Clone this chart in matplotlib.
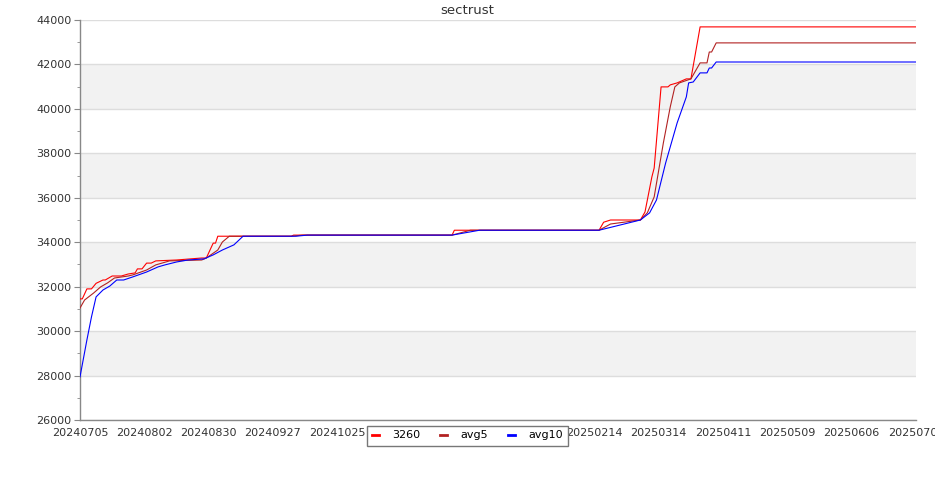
import pandas as pd
import matplotlib
matplotlib.use('Agg')
import matplotlib.pyplot as plt
from matplotlib.ticker import MultipleLocator

# polyline vertices (date, value)
dates_3260 = ['20240705', '20240706', '20240708', '20240710', '20240712', '20240715', '20240716',
              '20240719', '20240723', '20240726', '20240729', '20240730', '20240801', '20240803',
              '20240805', '20240807', '20240816', '20240827', '20240829', '20240901', '20240902',
              '20240903', '20241005', '20241006', '20241214', '20241215', '20250216', '20250218',
              '20250221', '20250306', '20250308', '20250311', '20250312', '20250315', '20250318',
              '20250319', '20250322', '20250326', '20250328', '20250401', '20250704']
vals_3260 = [31450, 31450, 31900, 31900, 32150, 32300, 32300,
             32480, 32480, 32570, 32620, 32800, 32800, 33060,
             33060, 33160, 33200, 33290, 33290, 33960, 33960,
             34270, 34270, 34320, 34320, 34540, 34540, 34900,
             35000, 35000, 35360, 36940, 37340, 40990, 40990,
             41080, 41170, 41350, 41350, 43690, 43690]

dates_avg5 = ['20240705', '20240707', '20240711', '20240714', '20240717', '20240720', '20240726',
              '20240728', '20240803', '20240807', '20240813', '20240827', '20240829', '20240903',
              '20240905', '20240908', '20241005', '20241010', '20241214', '20241222', '20250216',
              '20250221', '20250306', '20250309', '20250312', '20250316', '20250319', '20250321',
              '20250323', '20250328', '20250401', '20250404', '20250405', '20250406', '20250408',
              '20250704']
vals_avg5 = [31040, 31400, 31720, 31990, 32170, 32390, 32480,
             32530, 32750, 32980, 33160, 33200, 33290, 33650,
             34010, 34270, 34270, 34320, 34320, 34540, 34540,
             34820, 35000, 35320, 36040, 38470, 40090, 40990,
             41170, 41350, 42070, 42070, 42560, 42560, 42970,
             42970]

dates_avg10 = ['20240705', '20240708', '20240710', '20240712', '20240715', '20240718', '20240721',
               '20240724', '20240728', '20240803', '20240808', '20240811', '20240816', '20240821',
               '20240828', '20240901', '20240905', '20240910', '20240914', '20241007', '20241012',
               '20241214', '20241226', '20250216', '20250306', '20250310', '20250313', '20250317',
               '20250322', '20250326', '20250327', '20250329', '20250401', '20250404', '20250405',
               '20250406', '20250408', '20250704']
vals_avg10 = [27940, 29600, 30640, 31540, 31850, 32030, 32300,
              32300, 32440, 32660, 32890, 32980, 33110, 33200,
              33250, 33430, 33650, 33880, 34270, 34270, 34320,
              34320, 34540, 34540, 35000, 35320, 35900, 37570,
              39370, 40540, 41170, 41210, 41620, 41620, 41840,
              41840, 42110, 42110]

def to_dt(lst):
    return pd.to_datetime(lst, format='%Y%m%d')

fig = plt.figure(figsize=(9.35, 5), dpi=100)
ax = fig.add_axes([80/935, 80/500, 836/935, 400/500])

# alternating bands
for lo in [28000, 32000, 36000, 40000]:
    ax.axhspan(lo, lo + 2000, color='#f2f2f2', zorder=0, lw=0)
ax.grid(axis='y', color='#dddddd', lw=1, zorder=1)
ax.set_axisbelow(True)

ax.plot(to_dt(dates_3260), vals_3260, color='#ff0000', lw=0.8, label='3260', zorder=3)
ax.plot(to_dt(dates_avg5), vals_avg5, color='#b22222', lw=0.8, label='avg5', zorder=3)
ax.plot(to_dt(dates_avg10), vals_avg10, color='#0000ff', lw=0.8, label='avg10', zorder=3)

ax.set_ylim(26000, 44000)
ax.yaxis.set_major_locator(MultipleLocator(2000))
ax.yaxis.set_minor_locator(MultipleLocator(1000))
ax.set_xlim(pd.Timestamp('2024-07-05'), pd.Timestamp('2025-07-04'))
xt = pd.date_range('2024-07-05', periods=14, freq='28D')
ax.set_xticks(xt)
ax.set_xticklabels([d.strftime('%Y%m%d') for d in xt])

for s in ['top', 'right']:
    ax.spines[s].set_visible(False)
for s in ['left', 'bottom']:
    ax.spines[s].set_color('#888888')
    ax.spines[s].set_linewidth(1)
ax.tick_params(axis='y', which='major', length=4, color='#888888', labelsize=8, labelcolor='#333333', pad=2)
ax.tick_params(axis='y', which='minor', length=2.5, color='#888888')
ax.tick_params(axis='x', length=0, labelsize=8, labelcolor='#333333', pad=6)

fig.text(0.5, 0.98, 'sectrust', ha='center', va='center', fontsize=9.5, color='#333333')

# legend sits over the middle x labels, like the original
leg = fig.legend(loc='center', bbox_to_anchor=(467.5/935, 1 - 435.5/500), ncol=3, fontsize=8,
                 frameon=True, fancybox=False, edgecolor='#777777', facecolor='white',
                 framealpha=1, handlelength=0.6, handletextpad=1.2, columnspacing=1.8,
                 borderpad=0.45)
leg.get_frame().set_linewidth(1)
for h in leg.legend_handles:
    h.set_linewidth(2)

fig.savefig('out.png', dpi=100)
